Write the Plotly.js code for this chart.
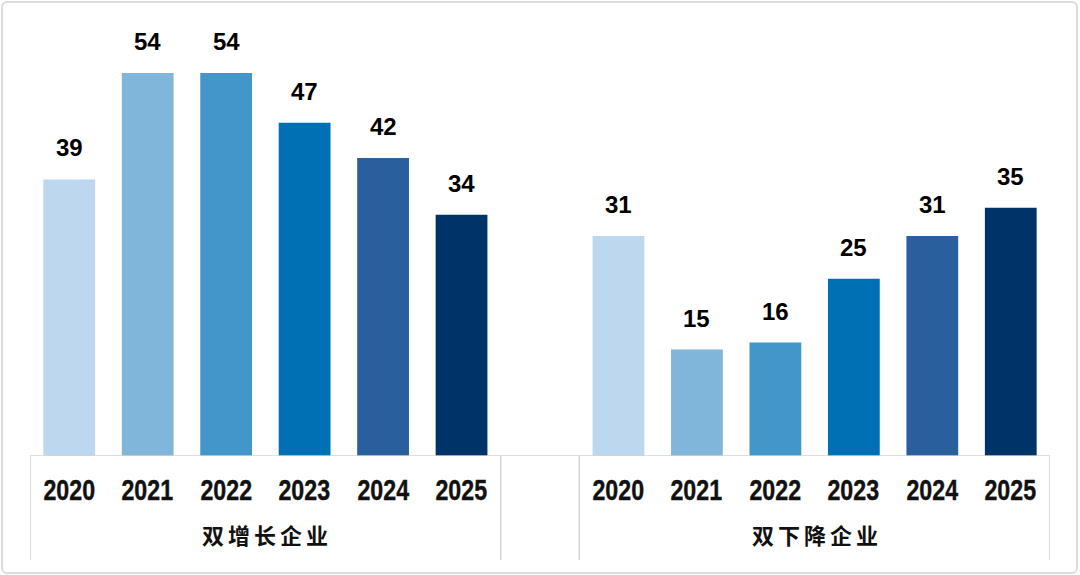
<!DOCTYPE html>
<html>
<head>
<meta charset="utf-8">
<script src="https://cdn.plot.ly/plotly-3.0.1.min.js"></script>
<style>
  body { margin: 0; background: #fff; }
  #wrap { position: relative; width: 1080px; height: 575px; }
  #frame { position: absolute; left: 1px; top: 1px; right: 2px; bottom: 1px;
           border: 2px solid #dcdcdc; border-radius: 6px; pointer-events: none; }
</style>
</head>
<body>
<div id="wrap">
  <div id="chart" style="width:1080px;height:575px;"></div>
  <div id="frame"></div>
</div>
<script>
// chart values
var years = ['2020', '2021', '2022', '2023', '2024', '2025'];
var groupNames = ['双增长企业', '双下降企业'];
var growthValues = [39, 54, 54, 47, 42, 34];
var declineValues = [31, 15, 16, 25, 31, 35];
var barColors = ['#BDD7EE', '#7FB6D9', '#4296C9', '#0070B4', '#2A5F9E', '#003469'];

var n = years.length;
var growthX = years.map(function (y, i) { return i; });
var declineX = years.map(function (y, i) { return i + n + 1; });   // one blank slot between groups

var data = [
    {
        type: 'bar',
        x: growthX,
        y: growthValues,
        width: 0.66,
        marker: { color: barColors },
        hoverinfo: 'none'
    },
    {
        type: 'bar',
        x: declineX,
        y: declineValues,
        width: 0.66,
        marker: { color: barColors },
        hoverinfo: 'none'
    }
];

var annotations = [];
function addLabels(xs, vals) {
    xs.forEach(function (x, i) {
        annotations.push({
            x: x, y: vals[i], xref: 'x', yref: 'y',
            text: String(vals[i]), showarrow: false,
            yanchor: 'bottom', yshift: 16,
            font: { family: 'Liberation Sans, Arial, sans-serif', size: 24, color: '#000', weight: 'bold' }
        });
        annotations.push({
            x: x, y: 0, xref: 'x', yref: 'paper',
            text: years[i], showarrow: false,
            yanchor: 'middle', yshift: -34,
            font: { family: 'Liberation Sans, Arial, sans-serif', size: 29, color: '#111' },
            name: 'year'
        });
    });
}
addLabels(growthX, growthValues);
addLabels(declineX, declineValues);

[growthX, declineX].forEach(function (xs, g) {
    annotations.push({
        x: (xs[0] + xs[xs.length - 1]) / 2, y: 0, xref: 'x', yref: 'paper',
        text: '<b>' + groupNames[g] + '</b>', showarrow: false,
        yanchor: 'middle', yshift: -78,
        font: { family: 'Noto Sans CJK SC, sans-serif', size: 22, color: '#111' },
        name: 'group'
    });
});

// table lines under the axis
var lineStyle = { color: '#d3d3d3', width: 1.5 };
var shapes = [
    { type: 'line', xref: 'x', yref: 'y', x0: -0.5, x1: 2 * n + 0.5, y0: 0, y1: 0, line: lineStyle }
];
[-0.5, n - 0.5, n + 0.5, 2 * n + 0.5].forEach(function (x) {
    shapes.push({ type: 'line', xref: 'x', yref: 'paper', x0: x, x1: x, y0: 0, y1: -0.2385, line: lineStyle });
});

var layout = {
    width: 1080,
    height: 575,
    margin: { l: 30, r: 30, t: 20, b: 119 },
    paper_bgcolor: '#fff',
    plot_bgcolor: '#fff',
    showlegend: false,
    xaxis: {
        range: [-0.5, 2 * n + 0.5],
        showticklabels: false, showgrid: false, zeroline: false, showline: false, ticks: ''
    },
    yaxis: {
        range: [0, 61.47],
        showticklabels: false, showgrid: false, zeroline: false, showline: false, ticks: ''
    },
    annotations: annotations,
    shapes: shapes
};

Plotly.newPlot('chart', data, layout, { displayModeBar: false, staticPlot: true }).then(function (gd) {
    // no narrow font installed: squeeze the year labels, space out the group labels
    var texts = gd.querySelectorAll('.annotation-text');
    texts.forEach(function (t) {
        var s = t.textContent;
        if (years.indexOf(s) >= 0) {
            var b = t.getBBox();
            var cx = b.x + b.width / 2;
            t.setAttribute('transform', 'translate(' + cx + ',0) scale(0.8,1) translate(' + (-cx) + ',0)');
            t.style.fontWeight = '600';
            t.style.stroke = '#111';
            t.style.strokeWidth = '0.4px';
        } else if (groupNames.indexOf(s) >= 0) {
            t.style.letterSpacing = '4px';
            var b2 = t.getBBox();
            t.setAttribute('transform', 'translate(2,0)');
        }
    });
});
</script>
</body>
</html>
